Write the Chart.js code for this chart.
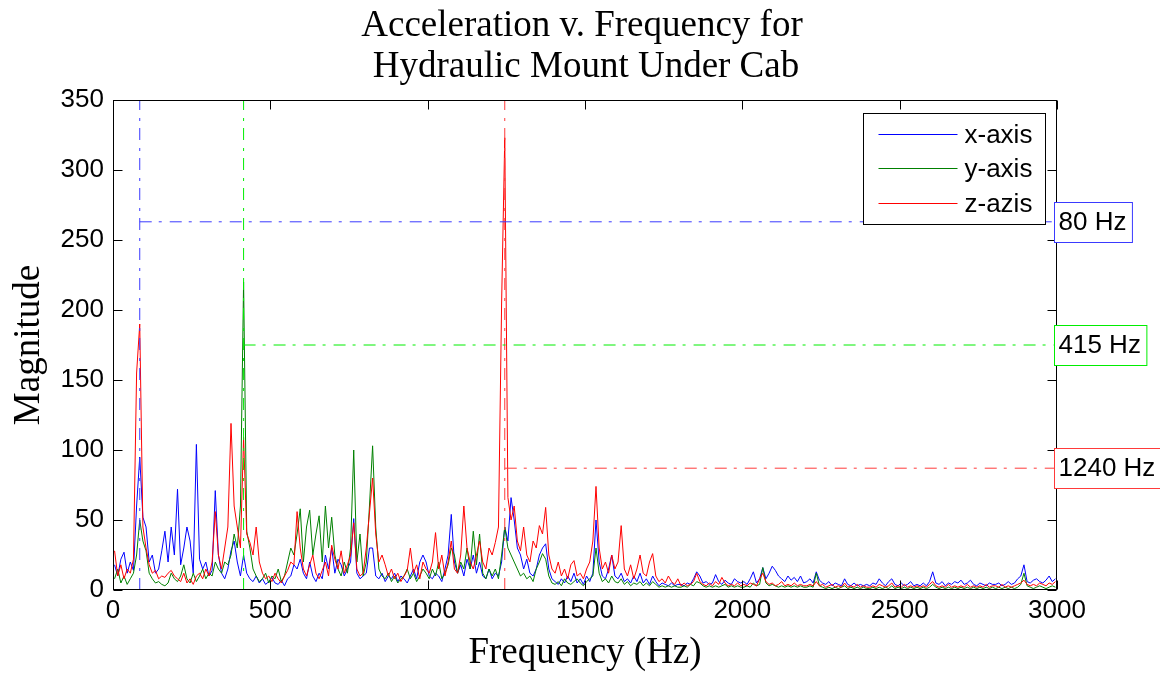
<!DOCTYPE html>
<html lang="en">
<head>
<meta charset="UTF-8" />
<title>Acceleration v. Frequency</title>
<style>
  html, body { margin: 0; padding: 0; background: #fff; }
  #wrap { width: 1160px; height: 673px; }
</style>
</head>
<body>
<div id="wrap"><canvas id="myChart" width="1160" height="673"></canvas></div>
<script src="https://cdn.jsdelivr.net/npm/chart.js@4/dist/chart.umd.min.js"></script>
<script>
// frequency bins: 5, 15, 25 ... 2995 Hz
const FREQ_START = 5;
const FREQ_STEP = 10;

// magnitudes, 20 bins (200 Hz) per row
const xAxisMag = [
  18,10,22,27,12,20,14,60,95,52,45,20,25,12,15,28,42,20,45,25,
  72,18,30,45,35,12,104,22,15,20,10,14,71,25,12,8,15,28,35,20,
  10,25,12,8,6,10,5,8,4,6,9,5,4,7,3,8,10,18,15,22,
  12,8,20,10,6,12,8,25,15,30,12,22,18,10,15,20,51,12,8,10,
  12,30,30,10,8,12,6,10,8,12,6,10,8,5,10,15,8,20,25,20,
  10,8,12,10,6,15,25,54,20,12,18,10,22,15,25,12,20,10,8,15,
  8,12,10,20,45,35,66,50,30,25,15,22,12,10,15,25,30,33,15,8,
  6,4,8,5,10,6,12,5,8,4,10,6,12,50,20,10,8,15,25,10,
  8,12,6,8,5,10,6,12,5,8,4,10,6,3,5,4,3,5,3,4,
  4,3,5,4,8,13,10,5,6,4,5,11,6,4,7,5,4,8,6,5,
  6,4,8,13,5,8,16,8,12,17,14,10,8,6,10,7,9,6,10,5,
  6,8,5,13,7,5,4,6,3,5,4,3,8,4,3,5,3,4,3,4,
  3,5,4,8,5,3,6,8,4,3,5,3,4,6,3,4,3,5,3,6,
  13,5,4,6,3,5,4,6,5,7,4,5,7,4,3,5,4,3,5,4,
  4,5,3,4,6,4,5,8,10,18,6,5,7,8,6,5,7,10,6,8
];
const yAxisMag = [
  8,15,5,10,4,8,12,25,50,35,28,12,8,5,6,4,3,5,12,8,
  6,10,18,8,5,12,6,10,15,8,12,10,20,15,12,20,18,25,40,30,
  60,220,42,30,15,10,6,8,12,5,10,8,15,6,10,20,30,25,40,58,
  20,45,57,25,40,53,20,60,30,52,25,15,10,20,12,30,100,20,40,10,
  20,60,103,45,15,10,8,12,6,10,5,8,10,15,8,12,6,10,15,12,
  8,15,10,20,8,12,18,30,25,12,20,15,30,15,42,18,40,12,8,15,
  10,15,8,25,45,30,25,20,15,10,12,8,10,6,15,20,26,22,10,5,
  4,6,3,8,5,4,6,8,5,3,6,8,10,30,12,6,8,5,10,6,
  5,8,4,6,3,5,4,6,3,5,3,6,4,2,3,2,3,2,3,2,
  2,3,2,4,3,6,5,3,2,3,2,3,2,3,4,2,3,2,3,2,
  2,3,2,5,3,4,16,5,3,4,3,2,3,2,3,2,3,2,3,2,
  2,3,2,12,3,2,1,2,1,2,1,2,3,1,2,1,2,1,2,1,
  1,2,1,2,1,2,1,3,1,2,1,2,1,2,1,2,1,2,1,2,
  4,2,1,2,1,2,1,2,1,2,1,2,1,2,1,2,1,2,1,2,
  1,2,1,2,1,2,1,2,4,12,3,2,1,2,3,2,1,2,3,2
];
const zAxisMag = [
  28,10,18,8,15,12,22,155,190,45,30,18,12,14,8,10,9,12,14,10,
  8,6,12,5,8,4,10,12,8,15,10,20,56,25,15,30,45,119,60,45,
  30,109,40,34,25,45,20,12,8,10,6,12,8,5,10,14,20,18,56,30,
  15,10,18,25,12,8,14,20,10,32,22,15,28,12,18,25,48,15,10,12,
  30,55,80,40,20,25,18,10,15,8,12,6,10,14,30,12,18,8,20,15,
  12,20,41,15,25,10,20,35,15,12,25,60,30,20,15,25,35,20,15,30,
  25,34,45,205,323,66,50,60,35,28,45,25,20,35,30,46,40,59,25,15,
  12,20,10,15,8,18,21,10,12,8,15,20,35,74,30,15,20,12,25,15,
  20,46,15,10,18,8,15,25,12,10,20,26,10,6,8,5,10,6,4,8,
  3,5,3,4,6,12,6,4,3,5,3,6,4,9,5,3,4,3,5,3,
  4,3,5,4,3,8,12,6,4,5,3,4,6,3,4,3,5,3,4,3,
  3,4,3,6,3,4,2,3,4,2,3,2,5,2,3,2,4,2,3,2,
  2,3,2,4,3,2,3,5,2,3,2,4,2,3,2,3,2,3,2,4,
  6,3,2,3,2,4,2,3,2,3,2,4,2,3,2,3,2,4,2,3,
  3,2,4,2,3,2,3,4,5,7,4,3,4,3,5,4,3,5,4,6
];

const seriesLabels = ["x-axis", "y-axis", "z-azis"];
const seriesColors = ["#0000ff", "#008000", "#ff0000"];

// peak markers (dash-dot lines + boxed labels on the right)
const markerFreqs = [85, 415, 1245];
const markerLevels = [263, 175, 87];
const markerLabels = ["80 Hz", "415 Hz", "1240 Hz"];
const markerColors = ["#3a3aff", "#00ee00", "#ff3a3a"];

const xTicks = [0, 500, 1000, 1500, 2000, 2500, 3000];
const yTicks = [0, 50, 100, 150, 200, 250, 300, 350];

const titleLines = ["Acceleration v. Frequency for", "Hydraulic Mount Under Cab"];
const xTitle = "Frequency (Hz)";
const yTitle = "Magnitude";

const SANS = "'Liberation Sans', Arial, sans-serif";
const SERIF = "'Liberation Serif', 'Times New Roman', serif";
const DASH_DOT = [12, 7, 3, 8];

function toPoints(mags) {
  return mags.map((m, i) => ({ x: FREQ_START + i * FREQ_STEP, y: m }));
}

const magSeries = [xAxisMag, yAxisMag, zAxisMag];
const datasets = [];

// dashed markers drawn on top (lowest order)
markerFreqs.forEach((f, i) => {
  datasets.push({
    label: "v" + i,
    data: [{ x: f, y: 0 }, { x: f, y: 350 }],
    borderColor: markerColors[i],
    borderWidth: 1,
    borderDash: DASH_DOT,
    pointRadius: 0,
    order: 0,
  });
  datasets.push({
    label: "h" + i,
    data: [{ x: f, y: markerLevels[i] }, { x: 3000, y: markerLevels[i] }],
    borderColor: markerColors[i],
    borderWidth: 1,
    borderDash: DASH_DOT,
    pointRadius: 0,
    order: 0,
  });
});

// red on top of green on top of blue
magSeries.forEach((mags, i) => {
  datasets.push({
    label: seriesLabels[i],
    data: toPoints(mags),
    borderColor: seriesColors[i],
    borderWidth: 1,
    pointRadius: 0,
    tension: 0,
    order: 3 - i,
  });
});

const matlabDecor = {
  id: "matlabDecor",
  afterDraw(chart) {
    const { ctx, chartArea: a, scales } = chart;
    const xs = scales.x, ys = scales.y;
    const L = Math.round(a.left) + 0.5, R = Math.round(a.right) - 0.5;
    const T = Math.round(a.top) + 0.5, B = Math.round(a.bottom) - 0.5;
    ctx.save();

    // axes box and inward ticks
    ctx.strokeStyle = "#000";
    ctx.lineWidth = 1;
    ctx.setLineDash([]);
    ctx.strokeRect(L, T, R - L, B - T);
    ctx.beginPath();
    xTicks.forEach((v) => {
      const px = Math.round(xs.getPixelForValue(v)) + 0.5;
      ctx.moveTo(px, B); ctx.lineTo(px, B - 9);
      ctx.moveTo(px, T); ctx.lineTo(px, T + 9);
    });
    yTicks.forEach((v) => {
      const py = Math.round(ys.getPixelForValue(v)) + 0.5;
      ctx.moveTo(L, py); ctx.lineTo(L + 9, py);
      ctx.moveTo(R, py); ctx.lineTo(R - 9, py);
    });
    ctx.stroke();

    // legend box
    const lgW = 182, lgH = 111;
    const lgX = Math.round(a.right) - 12 - lgW + 0.5;
    const lgY = Math.round(a.top) + 13 + 0.5;
    ctx.fillStyle = "#fff";
    ctx.fillRect(lgX, lgY, lgW, lgH);
    ctx.strokeStyle = "#000";
    ctx.strokeRect(lgX, lgY, lgW, lgH);
    ctx.font = "26px " + SANS;
    ctx.textAlign = "left";
    ctx.textBaseline = "middle";
    seriesLabels.forEach((lab, i) => {
      const yy = Math.round(lgY + 20 + i * 34.7) + 0.5;
      ctx.strokeStyle = seriesColors[i];
      ctx.beginPath();
      ctx.moveTo(lgX + 15, yy);
      ctx.lineTo(lgX + 94, yy);
      ctx.stroke();
      ctx.fillStyle = "#000";
      ctx.fillText(lab, lgX + 101, yy + 1);
    });

    // boxed peak labels on the right edge
    markerLabels.forEach((lab, i) => {
      const yy = ys.getPixelForValue(markerLevels[i]);
      const w = ctx.measureText(lab).width;
      const bx = Math.round(a.right) - 3 + 0.5;
      const by = Math.round(yy - 20) + 0.5;
      ctx.fillStyle = "#fff";
      ctx.fillRect(bx, by, w + 10, 40);
      ctx.strokeStyle = markerColors[i];
      ctx.strokeRect(bx, by, w + 10, 40);
      ctx.fillStyle = "#000";
      ctx.fillText(lab, bx + 4, yy + 1);
    });

    // titles
    ctx.fillStyle = "#000";
    ctx.font = "37px " + SERIF;
    ctx.textAlign = "center";
    ctx.textBaseline = "alphabetic";
    const cx = (a.left + a.right) / 2;
    ctx.fillText(titleLines[0], cx - 3, 36);
    ctx.fillText(titleLines[1], cx + 1, 77);
    ctx.fillText(xTitle, cx, 663);
    ctx.translate(29, (a.top + a.bottom) / 2);
    ctx.rotate(-Math.PI / 2);
    ctx.textBaseline = "middle";
    ctx.fillText(yTitle, 0, 0);
    ctx.restore();
  },
};

const options = {
  responsive: false,
  animation: false,
  events: [],
  layout: { padding: { top: 100, right: 103, left: 0, bottom: 0 } },
  plugins: {
    legend: { display: false },
    tooltip: { enabled: false },
    title: { display: false },
  },
  scales: {
    x: {
      type: "linear",
      min: 0,
      max: 3000,
      grid: { display: false, drawTicks: false },
      border: { display: false },
      ticks: {
        stepSize: 500,
        maxRotation: 0,
        autoSkip: false,
        padding: 5,
        color: "#000",
        font: { family: SANS, size: 26 },
        callback: (v) => String(v),
      },
      afterFit(scale) { scale.height = 83; },
    },
    y: {
      type: "linear",
      min: 0,
      max: 350,
      grid: { display: false, drawTicks: false },
      border: { display: false },
      ticks: {
        stepSize: 50,
        padding: 9,
        color: "#000",
        font: { family: SANS, size: 26 },
        callback: (v) => String(v),
      },
      afterFit(scale) { scale.width = 113; },
    },
  },
};

const ctx = document.getElementById("myChart");
const myChart = new Chart(ctx, {
  type: "line",
  data: { datasets: datasets },
  options: options,
  plugins: [matlabDecor],
});
</script>
</body>
</html>
